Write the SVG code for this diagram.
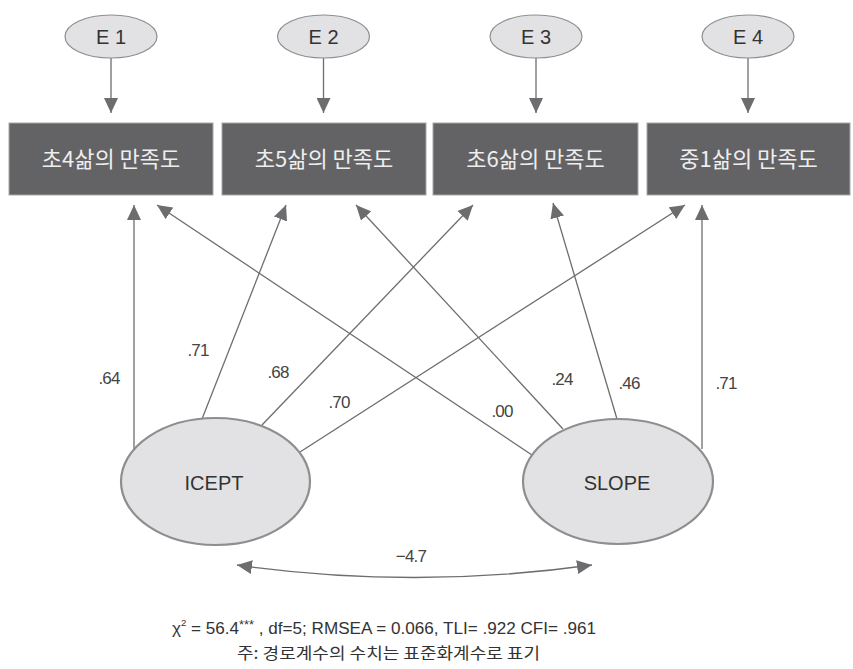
<svg xmlns="http://www.w3.org/2000/svg" width="853" height="669" viewBox="0 0 853 669">
<defs>
<style>
.err{fill:#e2e2e4;stroke:#8e8e90;stroke-width:1.2}
.lat{fill:#e2e2e4;stroke:#8e8e90;stroke-width:2.2}
.box{fill:#636366;stroke:#a8a8aa;stroke-width:1}
.boxt{font-family:"Noto Sans CJK KR","Noto Sans",sans-serif;font-size:22px;fill:#eeeeee;text-anchor:middle}
.et{font-family:"Liberation Sans","Noto Sans",sans-serif;font-size:20px;fill:#333;text-anchor:middle}
.lt{font-family:"Liberation Sans","Noto Sans",sans-serif;font-size:20px;fill:#333;text-anchor:middle}
.lab{font-family:"Liberation Sans","Noto Sans",sans-serif;font-size:17px;fill:#444;text-anchor:middle;letter-spacing:-0.8px}
.edge{stroke:#6d6d70;stroke-width:1.3;fill:none;marker-end:url(#ah)}
.note{font-family:"Liberation Sans","Noto Sans",sans-serif;font-size:16px;fill:#333}
.knote{font-family:"Noto Sans CJK KR","Noto Sans",sans-serif;font-size:16px;fill:#333}
</style>
<marker id="ah" markerUnits="userSpaceOnUse" markerWidth="16" markerHeight="14" refX="15" refY="7" orient="auto-start-reverse">
<path d="M0,0 L15,7 L0,14 z" fill="#6d6d70"/>
</marker>
</defs>

<g id="connectors">
<line class="edge" x1="111" y1="58" x2="111" y2="113"/>
<line class="edge" x1="323.5" y1="58" x2="323.5" y2="113"/>
<line class="edge" x1="536" y1="58" x2="536" y2="113"/>
<line class="edge" x1="748" y1="58" x2="748" y2="113"/>
<line class="edge" x1="134" y1="449" x2="134" y2="205"/>
<line class="edge" x1="202" y1="419" x2="286" y2="205"/>
<line class="edge" x1="262" y1="425" x2="473" y2="205"/>
<line class="edge" x1="300" y1="452" x2="685" y2="205"/>
<line class="edge" x1="532" y1="455" x2="157" y2="205"/>
<line class="edge" x1="563" y1="429" x2="356" y2="205"/>
<line class="edge" x1="617" y1="419" x2="553" y2="203"/>
<line class="edge" x1="702" y1="449" x2="702" y2="205"/>
<path class="edge" d="M237,565 Q414,590 592,565" style="marker-start:url(#ah)"/>
<text class="lab" x="109" y="384">.64</text>
<text class="lab" x="198" y="356">.71</text>
<text class="lab" x="278" y="378">.68</text>
<text class="lab" x="339" y="408">.70</text>
<text class="lab" x="502" y="417">.00</text>
<text class="lab" x="562" y="385">.24</text>
<text class="lab" x="629" y="389">.46</text>
<text class="lab" x="726" y="389">.71</text>
<text class="lab" x="411" y="562">−4.7</text>
</g>

<g id="E1"><ellipse class="err" cx="111" cy="36.5" rx="46" ry="21.5"/><text class="et" x="111" y="43.5">E 1</text></g>
<g id="E2"><ellipse class="err" cx="323.5" cy="36.5" rx="46" ry="21.5"/><text class="et" x="323.5" y="43.5">E 2</text></g>
<g id="E3"><ellipse class="err" cx="536" cy="36.5" rx="46" ry="21.5"/><text class="et" x="536" y="43.5">E 3</text></g>
<g id="E4"><ellipse class="err" cx="748" cy="36.5" rx="46" ry="21.5"/><text class="et" x="748" y="43.5">E 4</text></g>

<g id="Y1"><rect class="box" x="9" y="123" width="204" height="72"/><text class="boxt" x="111" y="167">초4삶의 만족도</text></g>
<g id="Y2"><rect class="box" x="222" y="123" width="204" height="72"/><text class="boxt" x="324" y="167">초5삶의 만족도</text></g>
<g id="Y3"><rect class="box" x="433" y="123" width="205" height="72"/><text class="boxt" x="535.5" y="167">초6삶의 만족도</text></g>
<g id="Y4"><rect class="box" x="647" y="123" width="203" height="72"/><text class="boxt" x="748.5" y="167">중1삶의 만족도</text></g>

<g id="ICEPT"><ellipse class="lat" cx="215.5" cy="481.5" rx="94.5" ry="63.5"/><text class="lt" x="214" y="490">ICEPT</text></g>
<g id="SLOPE"><ellipse class="lat" cx="618" cy="481.5" rx="95" ry="62.5"/><text class="lt" x="617" y="490">SLOPE</text></g>

<g id="notes">
<text class="note" x="172" y="634" textLength="424" lengthAdjust="spacingAndGlyphs">χ<tspan font-size="9" dy="-8">2</tspan><tspan dy="8"> = 56.4</tspan><tspan font-size="12" dy="-5">***</tspan><tspan dy="5"> , df=5; RMSEA = 0.066, TLI= .922 CFI= .961</tspan></text>
<text class="knote" x="237" y="659" textLength="303" lengthAdjust="spacingAndGlyphs">주: 경로계수의 수치는 표준화계수로 표기</text>
</g>
</svg>
